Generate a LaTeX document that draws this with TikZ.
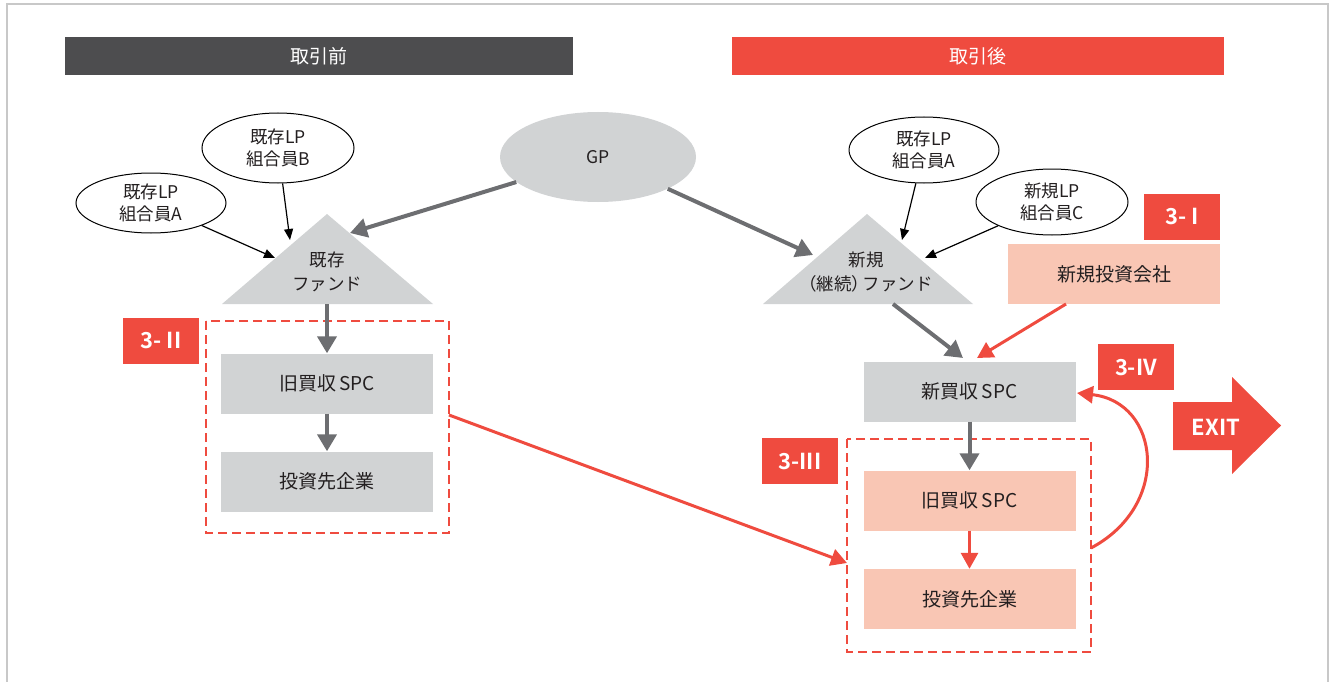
\documentclass[tikz,border=0pt]{standalone}
\usepackage{fontspec}
\setmainfont{Noto Sans CJK JP}
\newfontfamily\labfont{Noto Sans CJK JP}[BoldFont={* Bold}]
\usetikzlibrary{shapes.geometric,arrows.meta}
\definecolor{hdark}{HTML}{4D4D4F}
\definecolor{hred}{HTML}{EF4B3F}
\definecolor{boxgray}{HTML}{D1D3D4}
\definecolor{peach}{HTML}{F9C6B4}
\definecolor{arrgray}{HTML}{6D6E71}
\definecolor{txt}{HTML}{231F20}
\definecolor{frame}{HTML}{C8C8C8}
\tikzset{
  x=1pt,y=-1pt,
  header/.style={minimum width=#1, minimum height=38pt, inner sep=0pt, text=white, font=\fontsize{19}{22}\selectfont},
  lp/.style={ellipse, draw=black, line width=1pt, fill=white, inner sep=0pt, align=center, text=txt, font=\fontsize{17.5}{22}\selectfont},
  gbox/.style={fill=boxgray, minimum width=212pt, minimum height=60pt, inner sep=0pt, text=txt, font=\fontsize{19}{22}\selectfont},
  pbox/.style={fill=peach, minimum width=212pt, minimum height=60pt, inner sep=0pt, text=txt, font=\fontsize{19}{22}\selectfont},
  tag/.style={fill=hred, minimum width=76pt, minimum height=46pt, inner sep=0pt, text=white, font=\labfont\bfseries\fontsize{22}{24}\selectfont},
  dbox/.style={draw=hred, dashed, dash pattern=on 9pt off 5pt, line width=2.3pt},
  garrow/.style={draw=arrgray, line width=4pt, -{Triangle[length=17pt,width=19pt]}},
  rarrow/.style={draw=hred, line width=3pt, -{Triangle[length=16pt,width=17pt]}},
  barrow/.style={draw=black, line width=1.2pt, -{Triangle[length=11pt,width=9pt]}},
  fundtxt/.style={align=center, text=txt, font=\fontsize{17.5}{24}\selectfont, inner sep=0pt},
}
\begin{document}
\begin{tikzpicture}
\useasboundingbox (0,0) rectangle (1330,682);
% frame
\draw[frame, line width=2pt] (6.5,682) -- (6.5,4.5) -- (1328,4.5) -- (1328,682);
% headers
\node[header=508pt, fill=hdark] (hleft) at (319,56) {取引前};
\node[header=492pt, fill=hred] (hright) at (978,56) {取引後};

% ellipses
\node[lp, minimum width=152pt, minimum height=70pt] (lpB) at (278,148) {既存LP\\組合員B};
\node[lp, minimum width=150pt, minimum height=60pt] (lpA) at (151,203) {既存LP\\組合員A};
\node[ellipse, fill=boxgray, minimum width=196pt, minimum height=90pt, inner sep=0pt, text=txt, font=\fontsize{17.5}{20}\selectfont] (gp) at (598,157) {GP};
\node[lp, minimum width=150pt, minimum height=66pt] (lpA2) at (924,150) {既存LP\\組合員A};
\node[lp, minimum width=152pt, minimum height=66pt] (lpC) at (1052,202) {新規LP\\組合員C};

% funds (triangles)
\fill[boxgray] (327,214) -- (433,304) -- (222,304) -- cycle;
\node[fundtxt] (fund1) at (327,272) {既存\\ファンド};
\fill[boxgray] (867,214) -- (973,304) -- (763,304) -- cycle;
\node[fundtxt] (fund2) at (866,272) {新規\\（継続）\kern-0.35em ファンド};
\coordinate (f1top) at (327,304);
\coordinate (f1gp) at (350,233);
\coordinate (f1b) at (290,240);
\coordinate (f1a) at (275,258);
\coordinate (f2gp) at (813,255);
\coordinate (f2a) at (902,240);
\coordinate (f2c) at (925,258);
\coordinate (f2out) at (893,304);

% left boxes
\node[gbox] (spcL) at (327,383.5) {旧買収\,SPC};
\node[gbox] (invL) at (327,481.5) {投資先企業};
\draw[dbox] (206,321) rectangle (449,533);
\coordinate (dLout) at (449,415);
\node[tag] (t2) at (161,340.5) {3- II};

% right boxes
\node[pbox] (newco) at (1114,274) {新規投資会社};
\node[tag] (t1) at (1182,217) {3- I};
\node[gbox] (spcN) at (969.5,391.5) {新買収\,SPC};
\node[pbox] (spcO) at (969.5,500.5) {旧買収\,SPC};
\node[pbox] (invR) at (969.5,599) {投資先企業};
\draw[dbox] (847,439) rectangle (1091,652);
\coordinate (dRin) at (847,563);
\coordinate (dRout) at (1091,548);
\node[tag] (t3) at (800,461) {3-III};
\node[tag] (t4) at (1136,367) {3-IV};
\coordinate (nTopG) at (963,358);
\coordinate (nTopR) at (977,358);
\coordinate (nRight) at (1077,393);
\coordinate (newcoOut) at (1066,304);

% EXIT arrow
\fill[hred] (1173,402) -- (1232,402) -- (1232,377) -- (1281,425.5) -- (1232,474) -- (1232,450) -- (1173,450) -- cycle;
\node[text=white, font=\labfont\bfseries\fontsize{22}{24}\selectfont, inner sep=0pt] (exit) at (1216,427) {EXIT};

% connectors
\draw[barrow] (lpB) -- (f1b);
\draw[barrow] (lpA) -- (f1a);
\draw[barrow] (lpA2) -- (f2a);
\draw[barrow] (lpC) -- (f2c);
\draw[garrow] (gp) -- (f1gp);
\draw[garrow] (gp) -- (f2gp);
\draw[garrow] (f1top) -- (spcL.north);
\draw[garrow] (spcL) -- (invL);
\draw[garrow] (f2out) -- (nTopG);
\draw[rarrow] (newcoOut) -- (nTopR);
\draw[garrow] (spcN.south) -- (spcO.north);
\draw[rarrow] (spcO) -- (invR);
\draw[rarrow] (dLout) -- (dRin);
\draw[rarrow] (dRout) .. controls (1172,505) and (1160,402) .. (nRight);
\end{tikzpicture}
\end{document}
